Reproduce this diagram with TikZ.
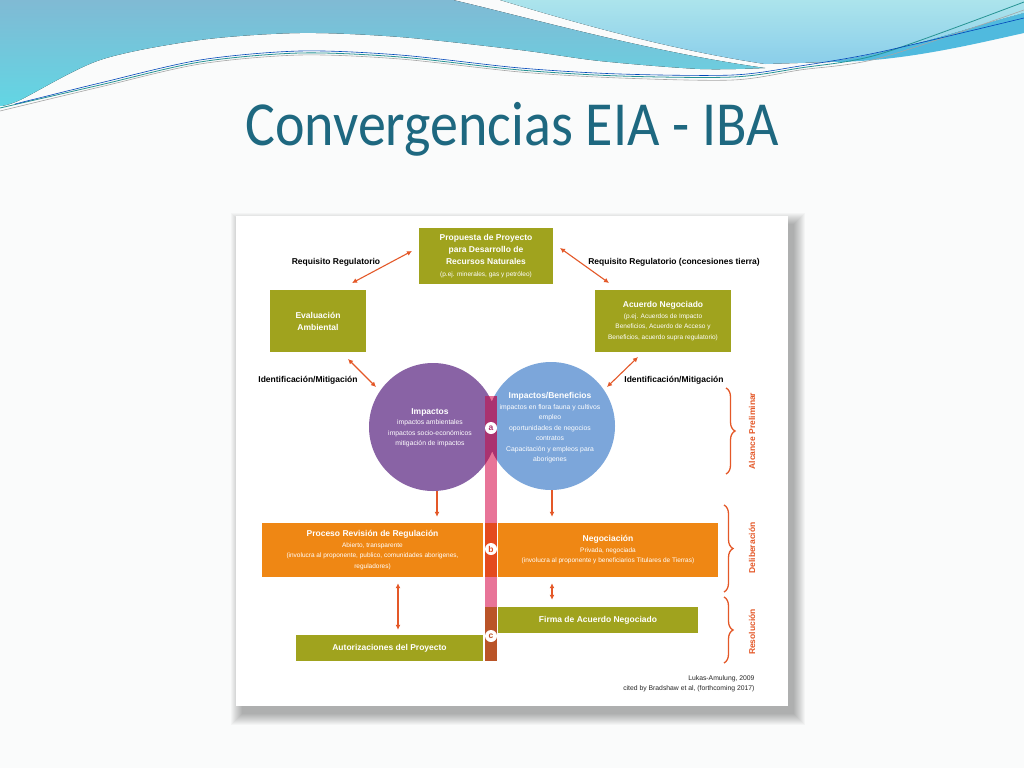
\documentclass[tikz,border=0pt]{standalone}
\usepackage{fontspec}
\setmainfont{Liberation Sans}
\newfontfamily\titlefont{Carlito}
\usetikzlibrary{arrows.meta,decorations.pathreplacing}

\definecolor{olive}{RGB}{160,163,30}
\definecolor{orng}{RGB}{239,135,20}
\definecolor{purp}{RGB}{137,99,165}
\definecolor{skyb}{RGB}{124,166,218}
\definecolor{barpink}{RGB}{232,116,152}
\definecolor{barmag}{RGB}{170,50,112}
\definecolor{barred}{RGB}{228,74,30}
\definecolor{barbrown}{RGB}{186,84,40}
\definecolor{arrred}{RGB}{228,88,40}
\definecolor{titleteal}{RGB}{30,104,128}
\definecolor{wave1}{RGB}{128,186,212}
\definecolor{wave2}{RGB}{98,214,228}
\definecolor{wave3}{RGB}{172,228,236}
\definecolor{wave5}{RGB}{138,206,234}
\definecolor{wave4}{RGB}{80,186,222}
\definecolor{bgslide}{RGB}{250,251,251}

\newcommand{\smalltxt}{\fontsize{6.5}{10.5}\selectfont\mdseries}
\newcommand{\headtxt}[1]{{\fontsize{8.5}{10.5}\selectfont\bfseries #1}}

\tikzset{
	olivebox/.style={fill=olive, text=white, align=center, inner sep=0pt, font=\fontsize{8.5}{12}\selectfont\bfseries},
	orangebox/.style={fill=orng, text=white, align=center, inner sep=0pt, font=\smalltxt},
	circtxt/.style={text=white, align=center, font=\fontsize{6.8}{10.5}\selectfont},
	lbl/.style={text=black, font=\fontsize{8.5}{10}\selectfont\bfseries},
	phase/.style={text=arrred, rotate=90, font=\fontsize{8.5}{10}\selectfont\bfseries},
	lettercirc/.style={circle, fill=white, inner sep=0pt, minimum size=12pt, font=\fontsize{8.5}{8.5}\selectfont\bfseries},
	arr/.style={-{Latex[length=5pt,width=5pt]}, line width=1.1pt, arrred},
	darr/.style={{Latex[length=5pt,width=5pt]}-{Latex[length=5pt,width=5pt]}, line width=1.1pt, arrred},
	phasebrace/.style={decorate, decoration={brace, amplitude=9pt}, line width=1.3pt, arrred},
}

\begin{document}
\begin{tikzpicture}[x=1pt,y=-1pt]
			%%%%% START %%%%%
			\useasboundingbox (0,0) rectangle (1024,768);
			\fill[bgslide] (0,0) rectangle (1024,768);
			
			% waves
			\fill[top color=wave1, bottom color=wave2] (0,0) -- (453,0) .. controls (530,18) and (650,52) .. (765,68) -- plot[smooth] coordinates {(765,68) (700,69) (600,61) (520,50) (400,37) (300,33) (200,40) (100,60) (20,100) (0,106)} -- cycle;
			\fill[top color=wave3, bottom color=wave5] (500,0) -- (1024,0) -- (1024,13) .. controls (960,30) and (900,52) .. (830,62) -- (765,64) .. controls (660,48) and (560,18) .. (500,0) -- cycle;
			\fill[wave4] (1024,13) .. controls (960,30) and (900,52) .. (830,62) .. controls (900,62) and (970,45) .. (1024,33) -- cycle;
			\draw[line width=0.8pt, color=teal!85] plot[smooth] coordinates {(0,108) (100,85) (200,62) (300,53) (400,57) (520,70) (620,76) (733,77) (800,68) (880,54) (1024,2)};
			\draw[line width=0.6pt, color=black!35] plot[smooth] coordinates {(0,111) (100,87) (200,64) (300,55) (400,59) (520,72) (620,78) (733,80) (800,70) (880,58) (1024,10)};
			\draw[line width=0.6pt, color=blue!45!teal] plot[smooth] coordinates {(15,104) (100,83) (200,60) (300,51) (400,55) (520,68) (620,74) (733,75) (800,66) (880,52) (1024,18)};
			
			\node[text=titleteal, anchor=base] (title) at (512,145) {\titlefont\fontsize{56}{60}\selectfont\scalebox{1}[1.12]{Convergencias EIA - IBA}};
			
			% panel
			\foreach \s in {0,...,11}
				\fill[black, opacity=0.026] (242-\s, 224-\s) rectangle (794+\s, 714+\s);
			\fill[white] (236,216) rectangle (788,706);
			
			\node[olivebox, minimum width=134pt, minimum height=56pt] (prop) at (486,256) {Propuesta de Proyecto\\para Desarrollo de\\Recursos Naturales\\{\smalltxt (p.ej. minerales, gas y petróleo)}};
			\node[olivebox, minimum width=96pt, minimum height=62pt] (ev) at (318,321) {Evaluación\\Ambiental};
			\node[olivebox, font=\smalltxt, minimum width=136pt, minimum height=62pt] (acu) at (663,321) {\headtxt{Acuerdo Negociado}\\(p.ej. Acuerdos de Impacto\\Beneficios, Acuerdo de Acceso y\\Beneficios, acuerdo supra regulatorio)};
			
			\node[lbl] (rqL) at (336,262) {Requisito Regulatorio};
			\node[lbl] (rqR) at (674,262) {Requisito Regulatorio (concesiones tierra)};
			\node[lbl] (idL) at (308,380) {Identificación/Mitigación};
			\node[lbl] (idR) at (674,380) {Identificación/Mitigación};
			
			\coordinate (rqL-a) at (352,283);
			\coordinate (rqL-b) at (412,251);
			\coordinate (rqR-a) at (560,248);
			\coordinate (rqR-b) at (609,283);
			\coordinate (idL-a) at (348,359);
			\coordinate (idL-b) at (376,387);
			\coordinate (idR-a) at (638,357);
			\coordinate (idR-b) at (607,387);
			\draw[darr] (rqL-a) -- (rqL-b);
			\draw[darr] (rqR-a) -- (rqR-b);
			\draw[darr] (idL-a) -- (idL-b);
			\draw[darr] (idR-a) -- (idR-b);
			
			% circles
			\node[circle, fill=purp, minimum size=128pt, inner sep=0pt] (imp) at (433,427) {};
			\node[circle, fill=skyb, minimum size=128pt, inner sep=0pt] (ben) at (551,426) {};
			
			% bar
			\fill[barpink] (485,396) rectangle (497,661);
			\begin{scope}
				\clip (imp.center) circle [radius=64] (ben.center) circle [radius=64];
				\fill[barmag] (485,396) rectangle (497,492);
			\end{scope}
			\fill[barred] (485,523) rectangle (497,577);
			\fill[barbrown] (485,607) rectangle (497,661);
			
			\node[circtxt] (imptxt) at (430,428) {\headtxt{Impactos}\\impactos ambientales\\impactos socio-económicos\\mitigación de impactos};
			\node[circtxt] (bentxt) at (550,428) {\headtxt{Impactos/Beneficios}\\impactos en flora fauna y cultivos\\empleo\\oportunidades de negocios\\contratos\\Capacitación y empleos para\\aborigenes};
			
			% lower boxes
			\node[orangebox, minimum width=221pt, minimum height=54pt] (proc) at (372.5,550) {\headtxt{Proceso Revisión de Regulación}\\Abierto, transparente\\(involucra al proponente, publico, comunidades aborigenes,\\reguladores)};
			\node[orangebox, minimum width=220pt, minimum height=54pt] (neg) at (608,550) {\headtxt{Negociación}\\Privada, negociada\\(involucra al proponente y beneficiarios Titulares de Tierras)};
			\node[olivebox, minimum width=200pt, minimum height=26pt] (fir) at (598,620) {Firma de Acuerdo Negociado};
			\node[olivebox, minimum width=187pt, minimum height=26pt] (aut) at (389.5,648) {Autorizaciones del Proyecto};
			
			\node[lettercirc, text=barmag] (la) at (491,428) {a};
			\node[lettercirc, text=barred] (lb) at (491,549) {b};
			\node[lettercirc, text=barbrown] (lc) at (491,636) {c};
			
			\coordinate (dl) at (437,0);
			\coordinate (dr) at (552,0);
			\coordinate (vl) at (398,0);
			\draw[arr, shorten >=6pt] (dl |- imp.south) -- (dl |- proc.north);
			\draw[arr, shorten >=6pt] (dr |- ben.south) -- (dr |- neg.north);
			\draw[darr, shorten <=6pt, shorten >=5pt] (vl |- proc.south) -- (vl |- aut.north);
			\draw[darr, shorten <=6pt, shorten >=7pt] (dr |- neg.south) -- (dr |- fir.north);
			
			% phases
			\draw[phasebrace] (726,388) -- (726,474);
			\node[phase] (ph1) at (752,431) {Alcance Preliminar};
			\draw[phasebrace] (724,505) -- (724,592);
			\node[phase] (ph2) at (752,548) {Deliberación};
			\draw[phasebrace] (724,597) -- (724,663);
			\node[phase] (ph3) at (752,632) {Resolución};
			
			\node[anchor=east, align=right, font=\fontsize{6.8}{10}\selectfont, text=black!85] (cred) at (758,684) {Lukas-Amulung, 2009\\cited by Bradshaw et al, (forthcoming 2017)};
			%%%%% END %%%%%
\end{tikzpicture}
\end{document}
